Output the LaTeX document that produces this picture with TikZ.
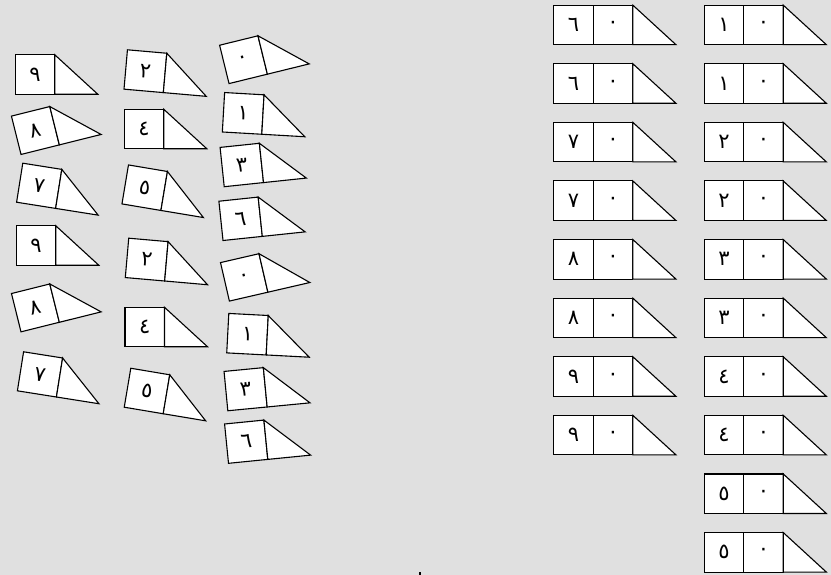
\documentclass[tikz,border=0pt]{standalone}
\usepackage{fontspec}
\newfontfamily\arabicfont[Script=Arabic]{DejaVu Sans}
\usetikzlibrary{calc}
\definecolor{bggray}{HTML}{E0E0E0}
\tikzset{
  sq/.style={draw=black, fill=white, line width=1.1pt, minimum size=39.5pt,
    inner sep=0pt, outer sep=0pt, font=\arabicfont\fontsize{21}{21}\selectfont},
  tri/.style={draw=black, fill=white, line width=1.1pt, line join=miter},
}
% one square with a digit and a triangle on its right
\newcommand\wedgeshape[5]{%
  \node[sq, rotate=#4] (#1) at (#2,#3) {#5};
  \draw[tri] (#1.north east) -- ($(#1.south east)!-1.09!(#1.south west)$) -- (#1.south east) -- cycle;
}
% two squares (tens digit, zero) and a triangle
\newcommand\pairshape[5]{%
  \node[sq] (#1a) at (#2,#3) {#4};
  \node[sq, anchor=west] (#1b) at (#1a.east) {#5};
  \draw[tri] (#1b.north east) -- ($(#1b.south east)!-1.09!(#1b.south west)$) -- (#1b.south east) -- cycle;
}
\begin{document}
\begin{tikzpicture}[x=1pt,y=-1pt]
\fill[bggray] (0,0) rectangle (831,575);
\useasboundingbox (0,0) rectangle (831,575);
% column A
\wedgeshape{a1}{35}{74.5}{0}{٩}
\wedgeshape{a2}{35.4}{130.5}{14}{٨}
\wedgeshape{a3}{39.2}{185.8}{-9}{٧}
\wedgeshape{a4}{36}{245.5}{0}{٩}
\wedgeshape{a5}{35.4}{307.9}{14}{٨}
\wedgeshape{a6}{40}{374.4}{-9}{٧}
% column B
\wedgeshape{b1}{145.4}{71.2}{-5}{٢}
\wedgeshape{b2}{144}{129}{0}{٤}
\wedgeshape{b3}{144.7}{187.7}{-9.5}{٥}
\wedgeshape{b4}{146.7}{259.6}{-5}{٢}
\wedgeshape{b5}{144.7}{327}{0}{٤}
\wedgeshape{b6}{147}{391}{-9.5}{٥}
% column C
\wedgeshape{c1}{243.5}{59.7}{13.8}{٠}
\wedgeshape{c2}{243.2}{113.4}{-3.3}{١}
\wedgeshape{c3}{241.8}{165}{6}{٣}
\wedgeshape{c4}{240.6}{218.8}{6}{٦}
\wedgeshape{c5}{244.2}{277.4}{13}{٠}
\wedgeshape{c6}{247.5}{334.2}{-3}{١}
\wedgeshape{c7}{245.6}{389.2}{5.5}{٣}
\wedgeshape{c8}{246.2}{441.7}{5.7}{٦}
% right column 1
\pairshape{p1}{573.6}{24.9}{٦}{٠}
\pairshape{p2}{573.6}{83.5}{٦}{٠}
\pairshape{p3}{573.6}{142.1}{٧}{٠}
\pairshape{p4}{573.6}{200.7}{٧}{٠}
\pairshape{p5}{573.6}{259.3}{٨}{٠}
\pairshape{p6}{573.6}{317.9}{٨}{٠}
\pairshape{p7}{573.6}{376.5}{٩}{٠}
\pairshape{p8}{573.6}{435.1}{٩}{٠}
% right column 2
\pairshape{q1}{724}{24.9}{١}{٠}
\pairshape{q2}{724}{83.5}{١}{٠}
\pairshape{q3}{724}{142.1}{٢}{٠}
\pairshape{q4}{724}{200.7}{٢}{٠}
\pairshape{q5}{724}{259.3}{٣}{٠}
\pairshape{q6}{724}{317.9}{٣}{٠}
\pairshape{q7}{724}{376.5}{٤}{٠}
\pairshape{q8}{724}{435.1}{٤}{٠}
\pairshape{q9}{724}{493.7}{٥}{٠}
\pairshape{q10}{724}{552.3}{٥}{٠}
% small mark at the bottom
\fill[black] (418.5,572) rectangle (421,575);
\end{tikzpicture}
\end{document}
